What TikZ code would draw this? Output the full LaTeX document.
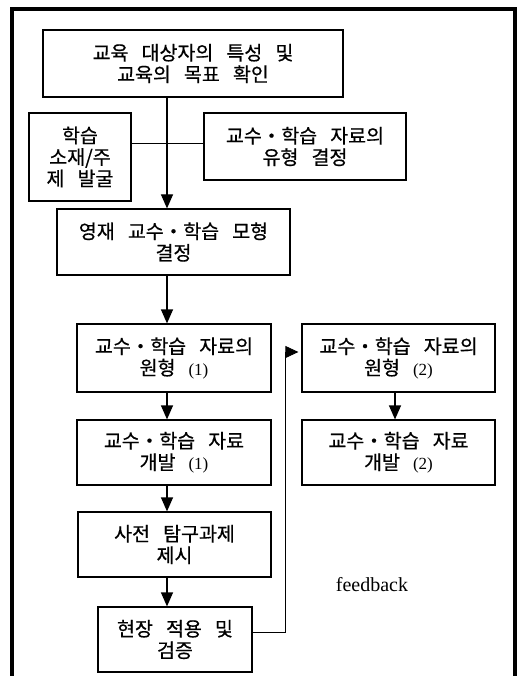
\documentclass[tikz,border=0pt]{standalone}
\usepackage{fontspec}
\setmainfont{Liberation Serif}
\newfontfamily\kr[WordSpace=3,FakeBold=0.6]{Noto Sans CJK KR}
\newcommand{\lat}[1]{{\rmfamily\fontsize{17}{21}\selectfont #1}}
\usetikzlibrary{arrows.meta}
\begin{document}
\begin{tikzpicture}[x=1pt,y=-1pt,
  box/.style={draw,line width=1.2pt,inner sep=0pt,align=center,font=\kr\fontsize{19.5}{21.5}\selectfont},
  arr/.style={line width=1.2pt,-{Triangle[length=14pt,width=12pt]}},
  thin/.style={line width=0.8pt}]
\useasboundingbox (0,0) rectangle (521,676);
\draw[line width=3.5pt] (12,690) -- (12,9) -- (515,9) -- (515,690);
\node[box,minimum width=300pt,minimum height=67pt] (b1) at (193,63.5) {교육 대상자의 특성 및\\교육의 목표 확인};
\node[box,minimum width=102pt,minimum height=88pt] (hak) at (80,157) {학습\\소재/주\\제 발굴};
\node[box,minimum width=202pt,minimum height=67pt] (yu) at (305,146.5) {교수・학습 자료의\\유형 결정};
\node[box,minimum width=233pt,minimum height=66pt] (yj) at (173.5,242) {영재 교수・학습 모형\\결정};
\node[box,minimum width=194pt,minimum height=68pt] (w1) at (174,358) {교수・학습 자료의\\원형 \lat{(1)}};
\node[box,minimum width=193pt,minimum height=68pt] (w2) at (398.5,358) {교수・학습 자료의\\원형 \lat{(2)}};
\node[box,minimum width=194pt,minimum height=65pt] (g1) at (174,452.5) {교수・학습 자료\\개발 \lat{(1)}};
\node[box,minimum width=193pt,minimum height=65pt] (g2) at (398.5,452.5) {교수・학습 자료\\개발 \lat{(2)}};
\node[box,minimum width=193pt,minimum height=65pt] (sj) at (174.5,544.5) {사전 탐구과제\\제시};
\node[box,minimum width=154pt,minimum height=65pt] (hj) at (175,639.5) {현장 적용 및\\검증};
\node[font=\fontsize{20}{24}\selectfont] (fb) at (372,585) {feedback};
\coordinate (ax) at (167,0);
\coordinate (ax2) at (395,0);
\coordinate (hy) at (0,143);
\coordinate (fy) at (0,632);
\coordinate (fx) at (285,352);
\draw[thin] (hak.east |- hy) -- (yu.west |- hy);
\draw[arr] (b1.south -| ax) -- (yj.north -| ax);
\draw[arr] (yj.south -| ax) -- (w1.north -| ax);
\draw[arr] (w1.south -| ax) -- (g1.north -| ax);
\draw[arr] (g1.south -| ax) -- (sj.north -| ax);
\draw[arr] (sj.south -| ax) -- (hj.north -| ax);
\draw[arr] (w2.south -| ax2) -- (g2.north -| ax2);
\draw[thin,-{Triangle[length=13pt,width=12pt]}] (hj.east |- fy) -| (fx) -- ([xshift=-3pt]w2.west |- fx);
\end{tikzpicture}
\end{document}
